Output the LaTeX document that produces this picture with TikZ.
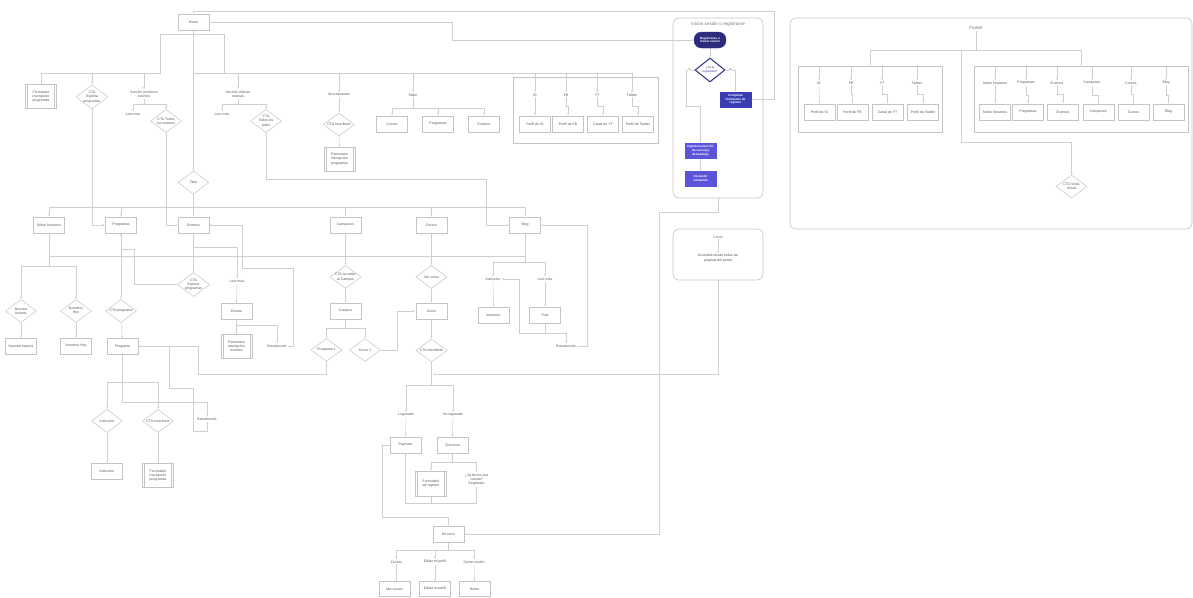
\documentclass[tikz,border=0pt]{standalone}
\usepackage{fontspec}
\setmainfont{Liberation Sans}
\usetikzlibrary{shapes.geometric,arrows.meta,backgrounds}
\definecolor{lgray}{HTML}{CFCFCF}
\definecolor{bgray}{HTML}{C4C4C4}
\definecolor{tgray}{HTML}{555555}
\definecolor{ttl}{HTML}{7A7A7A}
\definecolor{navy}{HTML}{2B2C7E}
\definecolor{mblue}{HTML}{3A3DB3}
\definecolor{lblue}{HTML}{5A55D8}
\newcommand\dfont{\fontsize{3.5}{4.2}\selectfont}
\newcommand\bfont{\fontsize{3.1}{3.7}\selectfont\bfseries}
\newcommand\tfont{\fontsize{4.6}{5.5}\selectfont}
\begin{document}
\begin{tikzpicture}[x=1pt,y=-1pt,
  ln/.style={draw=lgray,line width=0.5pt},
  arr/.style={ln,-{Latex[length=2.2pt,width=2pt]}},
  box/.style={draw=bgray,line width=0.5pt,fill=white,minimum width=31pt,minimum height=16pt,inner sep=0.5pt,align=center,font=\dfont,text=tgray},
  dia/.style={diamond,draw=bgray,line width=0.5pt,fill=white,minimum width=31pt,minimum height=23pt,inner sep=0pt,aspect=1.35,align=center,font=\dfont,text=tgray},
  pre/.style={box,minimum height=24pt,path picture={\draw[bgray,line width=0.5pt]
      ([xshift=2pt]path picture bounding box.north west) -- ([xshift=2pt]path picture bounding box.south west)
      ([xshift=-2pt]path picture bounding box.north east) -- ([xshift=-2pt]path picture bounding box.south east);}},
  lbl/.style={align=center,font=\dfont,text=tgray,inner sep=1pt},
  panel/.style={draw=bgray,line width=0.6pt,rounded corners=6pt},
  cont/.style={draw=bgray,line width=0.5pt},
  ttlst/.style={font=\tfont,text=ttl,inner sep=1pt},
]
\useasboundingbox (0,0) rectangle (1193,597);

% ---------- panels and containers ----------
\node[panel,minimum width=90pt,minimum height=180pt] (lpanel) at (718,108) {};
\node[panel,minimum width=90pt,minimum height=51pt] (cpanel) at (718,254.5) {};
\node[panel,minimum width=402pt,minimum height=211pt] (fpanel) at (991,123.5) {};
\node[cont,minimum width=145pt,minimum height=66pt] (hsoc) at (585.5,110) {};
\node[cont,minimum width=144pt,minimum height=66pt] (fsoc) at (870,99) {};
\node[cont,minimum width=214pt,minimum height=66pt] (fnav) at (1081,99) {};

% ---------- header ----------
\node[box] (home) at (193.5,22) {Home};
\node[pre] (fprog1) at (41,96.5) {Formulario\\inscripción\\programas};
\node[dia] (ctaexp) at (92,97) {CTA\\Explora\\programas};
\node[lbl] (secev) at (144,94) {Sección próximos\\eventos};
\node[lbl] (lm1) at (133,114) {Leer más};
\node[dia] (ctaev) at (166,121) {CTA Todos\\los eventos};
\node[lbl] (secnot) at (238,94) {Sección últimas\\noticias};
\node[lbl] (lm2) at (222,114) {Leer más};
\node[dia] (ctapost) at (266,121) {CTA\\Todos los\\posts};
\node[lbl] (susc) at (339,95) {Suscripciones};
\node[dia] (ctains1) at (339,124.5) {CTA Inscríbete};
\node[pre] (fprog2) at (339.5,159) {Formulario\\inscripción\\programas};
\node[lbl] (slider) at (413,95) {Slider};
\node[box] (scur) at (392,124) {Cursos};
\node[box] (sprog) at (438,124) {Programas};
\node[box] (sev) at (484,124) {Eventos};
\node[lbl] (hig) at (535,95) {IG};
\node[lbl] (hfb) at (566,95) {FB};
\node[lbl] (hyt) at (597,95) {YT};
\node[lbl] (htw) at (632,95) {Twitter};
\node[box] (hpig) at (535,124) {Perfil de IG};
\node[box] (hpfb) at (568,124) {Perfil de FB};
\node[box] (hcyt) at (603,124) {Canal de YT};
\node[box] (hptw) at (638,124) {Perfil de Twitter};

% ---------- tabs ----------
\node[dia] (tabs) at (193.5,182.5) {Tabs};
\node[box] (sobre) at (49,225) {Sobre Nosotros};
\node[box] (progs) at (121,225) {Programas};
\node[box] (evs) at (193.5,225) {Eventos};
\node[box] (camps) at (345.5,225) {Campuses};
\node[box] (curss) at (431.5,225) {Cursos};
\node[box] (blog) at (525,225) {Blog};

% sobre nosotros
\node[dia] (dhist) at (21,311) {Nuestra\\historia};
\node[dia] (dhoy) at (76,311) {Nosotros\\Hoy};
\node[box] (bhist) at (21,346) {Nuestra historia};
\node[box] (bhoy) at (76,346) {Nosotros Hoy};

% programas
\node[dia] (ctaprog) at (121,311) {CTA programa};
\node[box] (programa) at (122.5,346.5) {Programa};
\node[dia] (instr) at (107,421) {Instructor};
\node[dia] (ctains2) at (158,421) {CTA Inscríbete};
\node[box] (binstr) at (107,471.5) {Instructor};
\node[pre] (fprog3) at (158,475.5) {Formulario\\inscripción\\programas};
\node[lbl] (bc1) at (207,419.5) {Breadcrumb};

% eventos
\node[dia] (ctaexp2) at (193.5,284.5) {CTA\\Explora\\programas};
\node[lbl] (lm3) at (237,281) {Leer más};
\node[box] (evento) at (236.5,311.5) {Evento};
\node[pre] (fev) at (236.5,346.5) {Formulario\\inscripción\\eventos};
\node[lbl] (bc2) at (277,346) {Breadcrumb};

% campuses
\node[dia] (ctacamp) at (345.5,277) {CTA Acceder\\al Campus};
\node[box] (campus) at (345.5,311) {Campus};
\node[dia] (prog1) at (326.5,350) {Programa 1};
\node[dia] (cur1) at (365,350) {Curso 1};

% cursos
\node[dia] (vercurso) at (431.5,277) {Ver curso};
\node[box] (curso) at (431.5,311) {Curso};
\node[dia] (ctains3) at (431.5,350.5) {CTA Inscríbete};
\node[lbl] (logged) at (406,415) {Logueado};
\node[lbl] (nolog) at (453,415) {No logueado};
\node[box] (payment) at (405.5,445) {Payment};
\node[box] (checkout) at (452.5,445) {Checkout};
\node[pre,minimum height=25pt] (freg) at (431,483.5) {Formulario\\de registro};
\node[lbl] (yatienes) at (476.5,479.5) {¿Ya tienes una\\cuenta?\\Regístrate};
\node[box] (micurso) at (448.5,534) {Mi curso};
\node[lbl] (tcursos) at (396.5,562) {Cursos};
\node[lbl] (teditar) at (435,562) {Editar mi perfil};
\node[lbl] (tcerrar) at (474,562) {Cerrar sesión};
\node[box,minimum height=15pt] (bmis) at (394.5,589) {Mis cursos};
\node[box,minimum height=15pt] (beditar) at (435,589) {Editar mi perfil};
\node[box,minimum height=15pt] (bhome) at (474.5,589) {Home};

% blog
\node[lbl] (tinstr) at (493,279) {Instructor};
\node[lbl] (tlm4) at (545,279) {Leer más};
\node[box] (binstr2) at (493.5,315) {Instructor};
\node[box] (post) at (545,315) {Post};
\node[lbl] (bc3) at (566,346) {Breadcrumb};

% ---------- login ----------
\node[ttlst] (ltitle) at (718,24) {Iniciar sesión o registrarse};
\node[draw=navy,fill=navy,rounded corners=7.5pt,minimum width=32pt,minimum height=16pt,inner sep=0.5pt,text=white,font=\bfont,align=center] (pill) at (710,40) {Registrarse o\\iniciar sesión};
\node[dia,draw=navy,line width=1pt,minimum width=30pt,minimum height=24pt,font=\fontsize{2.9}{3.4}\selectfont,text=navy] (qreg) at (710,70) {¿Ya te\\registraste?};
\node[box,draw=mblue,fill=mblue,text=white,font=\bfont,minimum height=15pt] (complete) at (735.5,99.5) {Completa\\formulario de\\registro};
\node[box,draw=lblue,fill=lblue,text=white,font=\bfont,minimum height=15pt] (ingreso) at (700.5,150.5) {Ingreso/selección\\de curso(s)\\deseado(s)};
\node[box,draw=lblue,fill=lblue,text=white,font=\bfont,minimum height=15pt] (inicio) at (700.5,178.5) {Iniciando\\contenido};

% ---------- carrito ----------
\node[ttlst,font=\dfont] (ctitle) at (718,237) {Carrito};
\node[lbl] (ctext) at (718,258) {Accesible desde todas las\\páginas del portal};

% ---------- footer ----------
\node[ttlst] (ftitle) at (976,28) {Footer};
\node[lbl] (fig) at (819,83) {IG};
\node[lbl] (ffb) at (851,83) {FB};
\node[lbl] (fyt) at (882,83) {YT};
\node[lbl] (ftw) at (917,83) {Twitter};
\node[box] (fpig) at (819.5,112) {Perfil de IG};
\node[box] (fpfb) at (852.5,112) {Perfil de FB};
\node[box] (fcyt) at (887.5,112) {Canal de YT};
\node[box] (fptw) at (923,112) {Perfil de Twitter};
\node[lbl] (fsob) at (995,83) {Sobre Nosotros};
\node[lbl] (fpro) at (1026,83) {Programas};
\node[lbl] (feve) at (1057,83) {Eventos};
\node[lbl] (fcam) at (1092,83) {Campuses};
\node[lbl] (fcur) at (1131,83) {Cursos};
\node[lbl] (fblo) at (1166,83) {Blog};
\node[box] (bsob) at (995,112) {Sobre Nosotros};
\node[box] (bpro) at (1028,112) {Programas};
\node[box] (beve) at (1063,112) {Eventos};
\node[box] (bcam) at (1098.5,112) {Campuses};
\node[box] (bcur) at (1133.5,112) {Cursos};
\node[box] (bblo) at (1168.5,112) {Blog};
\node[dia] (fcta) at (1071.5,186.5) {CTA Visita\\virtual};

% ---------- connectors ----------
\begin{scope}[on background layer]
\draw[arr] (complete.east) -- (774,99.5) -- (774,11) -- (193.5,11) -- (home.north);
\draw[arr] (home.east) -- (452,22) -- (452,40) -- (pill.west);
\draw[arr] (home.south) -- (tabs.north);
\coordinate (hb) at (193.5,73);
\coordinate (hbl) at (160,34);
\coordinate (hbr) at (224,34);
\draw[ln] (hbl) -- (hbr);
\draw[ln] (hbl) -- (hbl |- hb) -- (fprog1 |- hb);
\draw[ln] (hbr) -- (hbr |- hb);
\draw[ln] (hb) -- (htw |- hb);
\draw[ln] (fprog1 |- hb) -- (fprog1.north);
\foreach \n in {ctaexp,secev,secnot,susc,slider,hig,hfb,hyt,htw}
  {\draw[arr] (\n |- hb) -- (\n.north);}
\coordinate (b1) at (144,104);
\draw[ln] (secev.south) -- (b1);
\draw[ln] (lm1 |- b1) -- (ctaev |- b1);
\draw[arr] (lm1 |- b1) -- (lm1.north);
\draw[arr] (ctaev |- b1) -- (ctaev.north);
\coordinate (b2) at (238,104);
\draw[ln] (secnot.south) -- (b2);
\draw[ln] (lm2 |- b2) -- (ctapost |- b2);
\draw[arr] (lm2 |- b2) -- (lm2.north);
\draw[arr] (ctapost |- b2) -- (ctapost.north);
\draw[arr] (susc.south) -- (ctains1.north);
\draw[arr] (ctains1.south) -- (fprog2.north);
\coordinate (b3) at (413,108);
\draw[ln] (slider.south) -- (b3);
\draw[ln] (scur |- b3) -- (sev |- b3);
\foreach \n in {scur,sprog,sev} {\draw[arr] (\n |- b3) -- (\n.north);}
\draw[arr] (hig.south) -- (hpig.north);
\draw[arr] (hfb.south) -- ++(0,9) -| (hpfb.north);
\draw[arr] (hyt.south) -- ++(0,9) -| (hcyt.north);
\draw[arr] (htw.south) -- ++(0,9) -| (hptw.north);
\draw[arr] (ctaexp.south) |- (progs.west);
\draw[arr] (ctaev.south) |- (evs.west);
\draw[arr] (ctapost.south) |- (486,179) |- (blog.west);
% tabs bus
\coordinate (tb) at (193.5,207);
\draw[ln] (tabs.south) -- (tb);
\draw[ln] (sobre |- tb) -- (blog |- tb);
\foreach \n in {sobre,progs,evs,camps,curss,blog} {\draw[arr] (\n |- tb) -- (\n.north);}
\draw[ln] (49,256) -- (525,256);
% sobre
\coordinate (sb) at (49,266);
\draw[ln] (sobre.south) -- (sb);
\draw[ln] (dhist |- sb) -- (dhoy |- sb);
\draw[arr] (dhist |- sb) -- (dhist.north);
\draw[arr] (dhoy |- sb) -- (dhoy.north);
\draw[arr] (dhist.south) -- (bhist.north);
\draw[arr] (dhoy.south) -- (bhoy.north);
% programas
\draw[arr] (progs.south) -- (ctaprog.north);
\draw[arr] (ctaexp2.west) -- (134,284.5) -- (134,249) -- (121,249) -- (progs.south);
\draw[arr] (ctaprog.south) -- (programa.north);
\coordinate (pb) at (122.5,382);
\draw[arr] (programa.south) -- (122.5,402) -| (bc1.north);
\draw[ln] (instr |- pb) -- (ctains2 |- pb);
\draw[arr] (instr |- pb) -- (instr.north);
\draw[arr] (ctains2 |- pb) -- (ctains2.north);
\draw[arr] (instr.south) -- (binstr.north);
\draw[ln] (ctains2.south) -- (fprog3.north);
\draw[arr] (bc1.south) -- (207,431) -- (193,431) -- (193,388) -- (169,388) |- (programa.east);
\draw[arr] (prog1.south) -- (326.5,374) -- (198,374) |- (programa.east);
% eventos
\draw[arr] (evs.south) -- (ctaexp2.north);
\draw[arr] (193.5,247) -| (lm3.north);
\draw[arr] (lm3.south) -- (evento.north);
\coordinate (eb) at (236.5,325);
\draw[ln] (evento.south) -- (eb) -- (277,325);
\draw[arr] (eb) -- (fev.north);
\draw[arr] (277,325) -- (bc2.north);
\draw[arr] (bc2.east) -- (293,346) -- (293,268) -- (242,268) |- (evs.east);
% campuses
\draw[arr] (camps.south) -- (ctacamp.north);
\draw[arr] (ctacamp.south) -- (campus.north);
\coordinate (cb) at (345.5,328);
\draw[ln] (campus.south) -- (cb);
\draw[ln] (prog1 |- cb) -- (cur1 |- cb);
\draw[arr] (prog1 |- cb) -- (prog1.north);
\draw[arr] (cur1 |- cb) -- (cur1.north);
\draw[arr] (cur1.east) -- (397,350) |- (curso.west);
% cursos
\draw[arr] (curss.south) -- (vercurso.north);
\draw[arr] (vercurso.south) -- (curso.north);
\draw[arr] (curso.south) -- (ctains3.north);
\coordinate (kb) at (431.5,385);
\draw[ln] (ctains3.south) -- (kb);
\draw[ln] (logged |- kb) -- (nolog |- kb);
\draw[arr] (logged |- kb) -- (logged.north);
\draw[arr] (nolog |- kb) -- (nolog.north);
\draw[arr] (logged.south) -- (payment.north);
\draw[arr] (nolog.south) -- (checkout.north);
\coordinate (chb) at (452.5,462);
\draw[ln] (checkout.south) -- (chb);
\draw[ln] (freg |- chb) -- (yatienes |- chb);
\draw[arr] (freg |- chb) -- (freg.north);
\draw[ln] (yatienes |- chb) -- (yatienes.north);
\draw[ln] (freg.south) -- (431,503);
\draw[arr] (yatienes.south) -- (476.5,503) -- (405.5,503) -- (payment.south);
\draw[arr] (payment.west) -- (382,445) |- (448.5,517) -- (micurso.north);
\draw[arr] (cpanel.south) -- (718,374) -- (433,374);
\draw[arr] (lpanel.south) -- (718,212) -- (659,212) |- (micurso.east);
\coordinate (mb) at (448.5,550);
\draw[ln] (micurso.south) -- (mb);
\draw[ln] (tcursos |- mb) -- (tcerrar |- mb);
\foreach \n in {tcursos,teditar,tcerrar} {\draw[arr] (\n |- mb) -- (\n.north);}
\draw[arr] (tcursos.south) -- (tcursos |- bmis.north);
\draw[arr] (teditar.south) -- (beditar.north);
\draw[arr] (tcerrar.south) -- (bhome.north);
% blog
\coordinate (bb) at (525,262);
\draw[ln] (blog.south) -- (bb);
\draw[ln] (tinstr |- bb) -- (tlm4 |- bb);
\draw[arr] (tinstr |- bb) -- (tinstr.north);
\draw[arr] (tlm4 |- bb) -- (tlm4.north);
\draw[arr] (tinstr.south) -- (binstr2.north);
\draw[arr] (tlm4.south) -- (post.north);
\draw[ln] (post.south) -- (545,333);
\draw[ln] (519,333) -- (566,333);
\draw[arr] (566,333) -- (bc3.north);
\draw[arr] (519,333) |- (tinstr.east);
\draw[arr] (bc3.east) -- (587,346) |- (blog.east);
% login
\draw[arr] (pill.south) -- (qreg.north);
\draw[arr] (qreg.west) -- (686,70) -- (686,106) -| (ingreso.north);
\draw[arr] (qreg.east) -| (complete.north);
\draw[arr] (ingreso.south) -- (inicio.north);
% carrito
\draw[arr] (ctitle.south) -- (ctext.north);
% footer
\coordinate (fb) at (976,50);
\coordinate (ft) at (900,66);
\draw[ln] (ftitle.south) -- (fb);
\draw[ln] (870,50) -- (1081,50);
\draw[arr] (870,50) -- (fsoc.north);
\draw[arr] (1081,50) -- (fnav.north);
\draw[arr] (961,50) -- (961,142) -| (fcta.north);
\foreach \n in {fig,ffb,fyt,ftw,fsob,fpro,feve,fcam,fcur,fblo} {\draw[arr] (\n |- ft) -- (\n.north);}
\draw[arr] (fig.south) -- (fpig.north);
\draw[arr] (ffb.south) -- ++(0,9) -| (fpfb.north);
\draw[arr] (fyt.south) -- ++(0,9) -| (fcyt.north);
\draw[arr] (ftw.south) -- ++(0,9) -| (fptw.north);
\draw[arr] (fsob.south) -- (bsob.north);
\draw[arr] (fpro.south) -- ++(0,9) -| (bpro.north);
\draw[arr] (feve.south) -- ++(0,9) -| (beve.north);
\draw[arr] (fcam.south) -- ++(0,9) -| (bcam.north);
\draw[arr] (fcur.south) -- ++(0,9) -| (bcur.north);
\draw[arr] (fblo.south) -- ++(0,9) -| (bblo.north);
\end{scope}
\node[lbl,font=\fontsize{2.6}{3}\selectfont,fill=white,inner sep=0.3pt] (lsi) at (689.5,70) {Sí};
\node[lbl,font=\fontsize{2.6}{3}\selectfont,fill=white,inner sep=0.3pt] (lno) at (730.5,70) {No};
\end{tikzpicture}
\end{document}
